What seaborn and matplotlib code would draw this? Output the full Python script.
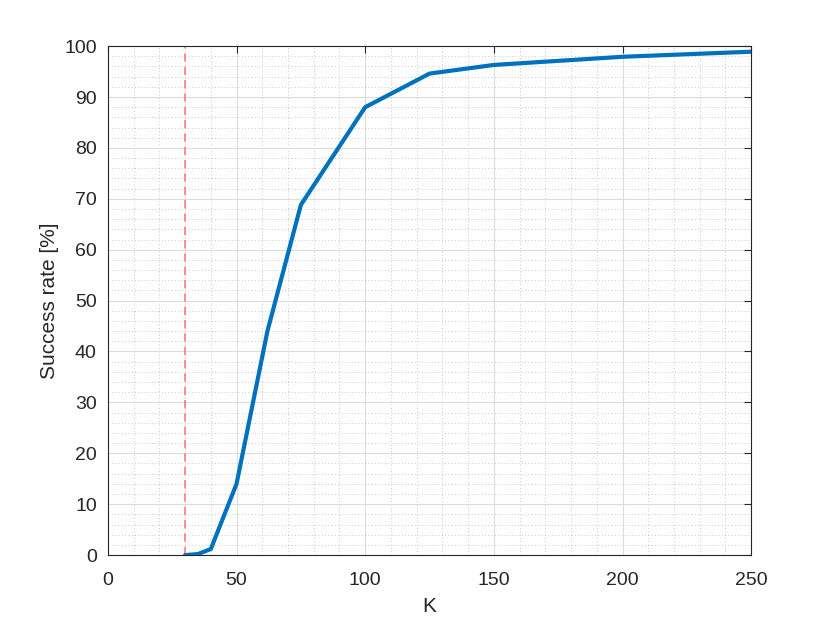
import numpy as np
import pandas as pd
import matplotlib
matplotlib.use("Agg")
import matplotlib.pyplot as plt
import seaborn as sns
from matplotlib.ticker import MultipleLocator

# values
k_values = [30, 35, 40, 50, 62, 75, 100, 125, 150, 200, 250]
success = [0.0, 0.2, 1.2, 14.0, 44.0, 68.8, 88.0, 94.6, 96.3, 97.9, 98.9]
threshold_k = 30

df = pd.DataFrame({"K": k_values, "rate": success})

sns.set_style("white")
plt.rcParams["font.family"] = ["Liberation Sans", "DejaVu Sans"]

fig = plt.figure(figsize=(8.3, 6.23), dpi=100)
ax = fig.add_axes([0.130, 0.109, 0.775, 0.817])

ax.plot([threshold_k, threshold_k], [0, 100], color="#ff5c5c", lw=1.2,
        ls=(0, (5, 3)), alpha=0.8, zorder=2)
sns.lineplot(data=df, x="K", y="rate", ax=ax, color="#0072BD", lw=3, zorder=3)

ax.set_xlim(0, 250)
ax.set_ylim(0, 100)
ax.xaxis.set_major_locator(MultipleLocator(50))
ax.yaxis.set_major_locator(MultipleLocator(10))
ax.xaxis.set_minor_locator(MultipleLocator(10))
ax.yaxis.set_minor_locator(MultipleLocator(2))

ax.grid(which="major", color="#dcdcdc", lw=0.8)
ax.grid(which="minor", color="#b4b4b4", lw=0.6, ls=(0, (1, 3)))
ax.set_axisbelow(True)

ax.tick_params(which="both", direction="in", top=True, right=True,
               colors="#262626", labelsize=14)
ax.tick_params(which="major", length=5, width=0.8)
ax.tick_params(axis="x", pad=12)
ax.tick_params(axis="y", pad=8)
ax.tick_params(which="minor", length=0)
for s in ax.spines.values():
    s.set_color("#262626")
    s.set_linewidth(0.8)

ax.set_xlabel("K", fontsize=15, color="#262626", labelpad=6)
ax.set_ylabel("Success rate [%]", fontsize=15, color="#262626", labelpad=4)

fig.savefig("out.png", dpi=100)
